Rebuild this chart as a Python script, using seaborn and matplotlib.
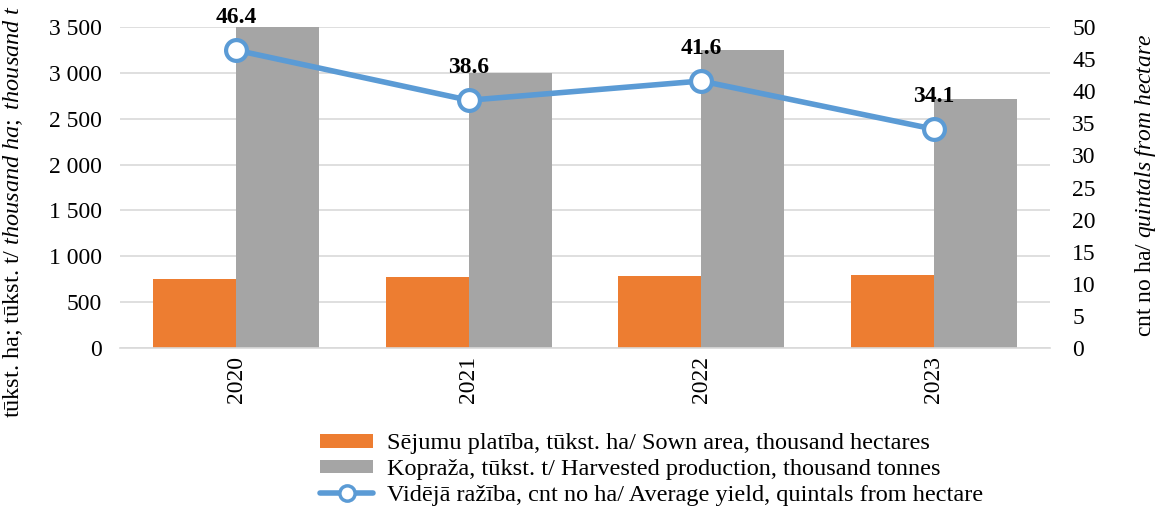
import matplotlib
matplotlib.use("Agg")
import matplotlib.pyplot as plt
import seaborn as sns
import pandas as pd
from matplotlib.lines import Line2D
from matplotlib.patches import Patch

years = ["2020", "2021", "2022", "2023"]
sown_area = [755, 777, 781, 796]
production = [3503, 2998, 3249, 2715]
avg_yield = [46.4, 38.6, 41.6, 34.1]

lbl_area = "Sējumu platība, tūkst. ha/ Sown area, thousand hectares"
lbl_prod = "Kopraža, tūkst. t/ Harvested production, thousand tonnes"
lbl_yield = "Vidējā ražība, cnt no ha/ Average yield, quintals from hectare"

sns.set_theme(style="white")
plt.rcParams['font.family'] = ['Liberation Serif', 'DejaVu Serif']
plt.rcParams['mathtext.fontset'] = 'custom'
plt.rcParams['mathtext.rm'] = 'Liberation Serif'
plt.rcParams['mathtext.it'] = 'Liberation Serif:italic'
for k in ['text.color', 'axes.labelcolor', 'xtick.color', 'ytick.color']:
    plt.rcParams[k] = 'black'

orange = "#ED7D31"
gray = "#A5A5A5"
blue = "#5B9BD5"

df = pd.DataFrame({
    "year": years * 2,
    "value": sown_area + production,
    "series": [lbl_area] * 4 + [lbl_prod] * 4,
})

fig = plt.figure(figsize=(11.57, 5.11), dpi=100)
ax = fig.add_axes([0.1037, 0.319, 0.8038, 0.628])
sns.barplot(data=df, x="year", y="value", hue="series", palette=[orange, gray],
            width=0.714, saturation=1, ax=ax, legend=False, edgecolor="none")
ax.set_ylim(0, 3500)
ax.set_xlim(-0.5, 3.5)
ax.set_yticks(range(0, 3501, 500))
ax.set_yticklabels([f"{v:,}".replace(",", " ") for v in range(0, 3501, 500)], fontsize=17)
ax.yaxis.grid(True, color="#D9D9D9", linewidth=1.2)
ax.set_axisbelow(True)
for s in ["top", "left", "right"]:
    ax.spines[s].set_visible(False)
ax.spines["bottom"].set_color("#D9D9D9")
ax.spines["bottom"].set_linewidth(1.2)
ax.tick_params(axis="x", rotation=90, labelsize=17, length=0, pad=6)
ax.tick_params(axis="y", length=0, pad=13)
ax.set_xlabel("")
ax.set_ylabel(r"tūkst. ha; tūkst. t/ $\mathit{thousand\ ha;\ thousand\ t}$", fontsize=17.5)
ax.yaxis.set_label_coords(-0.102, 0.424)

ax2 = ax.twinx()
sns.pointplot(x=years, y=avg_yield, ax=ax2, color=blue, markers="o",
              linestyles="-", errorbar=None)
for ln in ax2.lines:
    ln.set_linewidth(4)
    ln.set_markersize(15)
    ln.set_markerfacecolor("white")
    ln.set_markeredgecolor(blue)
    ln.set_markeredgewidth(3)
    ln.set_zorder(5)
ax2.set_ylim(0, 50)
ax2.set_xlim(-0.5, 3.5)
ax2.set_yticks(range(0, 51, 5))
ax2.tick_params(axis="y", length=0, labelsize=17, pad=16)
for s in ["top", "left", "right", "bottom"]:
    ax2.spines[s].set_visible(False)
ax2.set_ylabel(r"cnt no ha/ $\mathit{quintals\ from\ hectare}$", fontsize=17)
ax2.yaxis.set_label_coords(1.089, 0.508)
for i, v in enumerate(avg_yield):
    ax2.annotate(f"{v}", (i, v), xytext=(0, 16), textcoords="offset points",
                 ha="center", va="bottom", fontsize=17, fontweight="bold")

handles = [
    Patch(facecolor=orange, edgecolor="none"),
    Patch(facecolor=gray, edgecolor="none"),
    Line2D([0], [0], color=blue, lw=4, marker="o", markersize=11,
           markerfacecolor="white", markeredgecolor=blue, markeredgewidth=2.5),
]
fig.legend(handles, [lbl_area, lbl_prod, lbl_yield], loc="upper left",
           bbox_to_anchor=(0.2766, 0.152), frameon=False, fontsize=17.5,
           borderpad=0, borderaxespad=0,
           handlelength=2.2, handleheight=0.5, labelspacing=0.2, handletextpad=0.55)

fig.savefig("out.png", dpi=100)
